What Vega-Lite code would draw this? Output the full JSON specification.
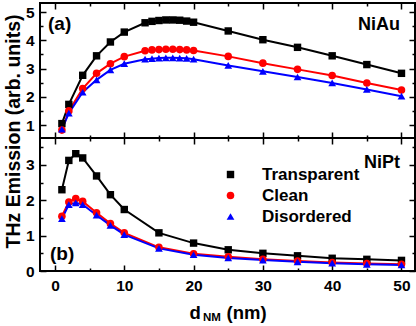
{
  "$schema": "https://vega.github.io/schema/vega-lite/v6.json",
  "autosize": {"type": "pad"},
  "padding": {"left": 2, "top": 1, "right": 3, "bottom": 2},
  "background": "white",
  "config": {
    "font": "Liberation Sans",
    "view": {"stroke": "#000000", "strokeWidth": 2},
    "axis": {
      "labelFont": "Liberation Sans", "titleFont": "Liberation Sans",
      "labelFontWeight": "bold", "labelFontSize": 15.5, "labelColor": "#000000",
      "titleFontWeight": "bold", "titleColor": "#000000",
      "tickColor": "#000000", "tickWidth": 1.5, "grid": false, "domain": false
    },
    "legend": {
      "title": null, "padding": 0,
      "labelFont": "Liberation Sans", "labelFontSize": 17, "labelFontWeight": "bold", "labelColor": "#000000", "labelLimit": 300,
      "symbolSize": 64, "labelOffset": 23, "rowPadding": 3
    },
    "text": {"font": "Liberation Sans", "fontWeight": "bold", "color": "#000000"}
  },
  "datasets": {
    "niau": [
      {"s": "Transparent", "d": 1, "v": 1.05}, {"s": "Transparent", "d": 2, "v": 1.73}, {"s": "Transparent", "d": 4, "v": 2.76}, {"s": "Transparent", "d": 6, "v": 3.45}, {"s": "Transparent", "d": 8, "v": 3.94}, {"s": "Transparent", "d": 10, "v": 4.29}, {"s": "Transparent", "d": 13, "v": 4.62}, {"s": "Transparent", "d": 14, "v": 4.67}, {"s": "Transparent", "d": 15, "v": 4.7}, {"s": "Transparent", "d": 16, "v": 4.72}, {"s": "Transparent", "d": 17, "v": 4.72}, {"s": "Transparent", "d": 18, "v": 4.71}, {"s": "Transparent", "d": 19, "v": 4.68}, {"s": "Transparent", "d": 20, "v": 4.64}, {"s": "Transparent", "d": 25, "v": 4.33}, {"s": "Transparent", "d": 30, "v": 4.02}, {"s": "Transparent", "d": 35, "v": 3.75}, {"s": "Transparent", "d": 40, "v": 3.45}, {"s": "Transparent", "d": 45, "v": 3.14}, {"s": "Transparent", "d": 50, "v": 2.83},
      {"s": "Clean", "d": 1, "v": 0.82}, {"s": "Clean", "d": 2, "v": 1.5}, {"s": "Clean", "d": 4, "v": 2.29}, {"s": "Clean", "d": 6, "v": 2.83}, {"s": "Clean", "d": 8, "v": 3.17}, {"s": "Clean", "d": 10, "v": 3.42}, {"s": "Clean", "d": 13, "v": 3.63}, {"s": "Clean", "d": 14, "v": 3.66}, {"s": "Clean", "d": 15, "v": 3.67}, {"s": "Clean", "d": 16, "v": 3.68}, {"s": "Clean", "d": 17, "v": 3.68}, {"s": "Clean", "d": 18, "v": 3.67}, {"s": "Clean", "d": 19, "v": 3.66}, {"s": "Clean", "d": 20, "v": 3.64}, {"s": "Clean", "d": 25, "v": 3.43}, {"s": "Clean", "d": 30, "v": 3.19}, {"s": "Clean", "d": 35, "v": 2.97}, {"s": "Clean", "d": 40, "v": 2.75}, {"s": "Clean", "d": 45, "v": 2.49}, {"s": "Clean", "d": 50, "v": 2.24},
      {"s": "Disordered", "d": 1, "v": 0.85}, {"s": "Disordered", "d": 2, "v": 1.42}, {"s": "Disordered", "d": 4, "v": 2.16}, {"s": "Disordered", "d": 6, "v": 2.6}, {"s": "Disordered", "d": 8, "v": 2.95}, {"s": "Disordered", "d": 10, "v": 3.17}, {"s": "Disordered", "d": 13, "v": 3.33}, {"s": "Disordered", "d": 14, "v": 3.35}, {"s": "Disordered", "d": 15, "v": 3.37}, {"s": "Disordered", "d": 16, "v": 3.38}, {"s": "Disordered", "d": 17, "v": 3.38}, {"s": "Disordered", "d": 18, "v": 3.37}, {"s": "Disordered", "d": 19, "v": 3.36}, {"s": "Disordered", "d": 20, "v": 3.33}, {"s": "Disordered", "d": 25, "v": 3.11}, {"s": "Disordered", "d": 30, "v": 2.9}, {"s": "Disordered", "d": 35, "v": 2.7}, {"s": "Disordered", "d": 40, "v": 2.49}, {"s": "Disordered", "d": 45, "v": 2.26}, {"s": "Disordered", "d": 50, "v": 2.02}
    ],
    "nipt": [
      {"s": "Transparent", "d": 1, "v": 2.3}, {"s": "Transparent", "d": 2, "v": 3.13}, {"s": "Transparent", "d": 3, "v": 3.32}, {"s": "Transparent", "d": 4, "v": 3.2}, {"s": "Transparent", "d": 6, "v": 2.69}, {"s": "Transparent", "d": 8, "v": 2.16}, {"s": "Transparent", "d": 10, "v": 1.74}, {"s": "Transparent", "d": 15, "v": 1.08}, {"s": "Transparent", "d": 20, "v": 0.79}, {"s": "Transparent", "d": 25, "v": 0.6}, {"s": "Transparent", "d": 30, "v": 0.5}, {"s": "Transparent", "d": 35, "v": 0.43}, {"s": "Transparent", "d": 40, "v": 0.36}, {"s": "Transparent", "d": 45, "v": 0.33}, {"s": "Transparent", "d": 50, "v": 0.3},
      {"s": "Clean", "d": 1, "v": 1.55}, {"s": "Clean", "d": 2, "v": 1.95}, {"s": "Clean", "d": 3, "v": 2.05}, {"s": "Clean", "d": 4, "v": 1.97}, {"s": "Clean", "d": 6, "v": 1.65}, {"s": "Clean", "d": 8, "v": 1.34}, {"s": "Clean", "d": 10, "v": 1.08}, {"s": "Clean", "d": 15, "v": 0.67}, {"s": "Clean", "d": 20, "v": 0.49}, {"s": "Clean", "d": 25, "v": 0.4}, {"s": "Clean", "d": 30, "v": 0.33}, {"s": "Clean", "d": 35, "v": 0.28}, {"s": "Clean", "d": 40, "v": 0.24}, {"s": "Clean", "d": 45, "v": 0.21}, {"s": "Clean", "d": 50, "v": 0.19},
      {"s": "Disordered", "d": 1, "v": 1.48}, {"s": "Disordered", "d": 2, "v": 1.88}, {"s": "Disordered", "d": 3, "v": 1.93}, {"s": "Disordered", "d": 4, "v": 1.88}, {"s": "Disordered", "d": 6, "v": 1.58}, {"s": "Disordered", "d": 8, "v": 1.29}, {"s": "Disordered", "d": 10, "v": 1.03}, {"s": "Disordered", "d": 15, "v": 0.64}, {"s": "Disordered", "d": 20, "v": 0.46}, {"s": "Disordered", "d": 25, "v": 0.37}, {"s": "Disordered", "d": 30, "v": 0.31}, {"s": "Disordered", "d": 35, "v": 0.26}, {"s": "Disordered", "d": 40, "v": 0.22}, {"s": "Disordered", "d": 45, "v": 0.19}, {"s": "Disordered", "d": 50, "v": 0.17}
    ]
  },
  "spacing": 0,
  "bounds": "flush",
  "resolve": {"legend": {"color": "independent", "shape": "independent", "size": "independent"}},
  "vconcat": [
    {
      "width": 375,
      "height": 135,
      "data": {"name": "niau"},
      "resolve": {"axis": {"x": "independent", "y": "independent"}},
      "layer": [
        {
          "mark": {"type": "line", "strokeWidth": 2},
          "encoding": {
            "x": {"field": "d", "type": "quantitative", "scale": {"domain": [-2.16, 51.95], "nice": false, "zero": false}, "axis": {"orient": "bottom", "values": [0, 10, 20, 30, 40, 50], "labels": false, "tickSize": -6, "title": null}},
            "y": {"field": "v", "type": "quantitative", "scale": {"domain": [0.54, 5.32], "nice": false, "zero": false}, "axis": {"orient": "left", "values": [1, 2, 3, 4, 5], "tickSize": -6, "labelPadding": 12, "title": null}},
            "color": {"field": "s", "type": "nominal", "scale": {"domain": ["Transparent", "Clean", "Disordered"], "range": ["#000000", "#ff0000", "#0000ff"]}, "legend": null}
          }
        },
        {
          "mark": {"type": "point", "filled": true, "opacity": 1},
          "encoding": {
            "x": {"field": "d", "type": "quantitative", "axis": {"orient": "top", "values": [0, 10, 20, 30, 40, 50], "labels": false, "tickSize": -6, "title": null}},
            "y": {"field": "v", "type": "quantitative", "axis": {"orient": "right", "values": [1, 2, 3, 4, 5], "labels": false, "tickSize": -6, "title": null}},
            "color": {"field": "s", "type": "nominal", "legend": null},
            "shape": {"field": "s", "type": "nominal", "scale": {"domain": ["Transparent", "Clean", "Disordered"], "range": ["square", "circle", "triangle-up"]}, "legend": null},
            "size": {"field": "s", "type": "nominal", "scale": {"domain": ["Transparent", "Clean", "Disordered"], "range": [55, 60, 85]}, "legend": null}
          }
        },
        {
          "mark": {"type": "point", "opacity": 0},
          "encoding": {
            "x": {"field": "d", "type": "quantitative", "axis": {"orient": "bottom", "values": [5, 15, 25, 35, 45], "labels": false, "tickSize": -3, "title": null}},
            "y": {"field": "v", "type": "quantitative", "axis": {"orient": "left", "values": [1.5, 2.5, 3.5, 4.5], "labels": false, "tickSize": -3, "title": null}}
          }
        },
        {
          "mark": {"type": "point", "opacity": 0},
          "encoding": {
            "x": {"field": "d", "type": "quantitative", "axis": {"orient": "top", "values": [5, 15, 25, 35, 45], "labels": false, "tickSize": -3, "title": null}},
            "y": {"field": "v", "type": "quantitative", "axis": {"orient": "right", "values": [1.5, 2.5, 3.5, 4.5], "labels": false, "tickSize": -3, "title": null}}
          }
        },
        {
          "data": {"values": [{}]},
          "mark": {"type": "text", "fontSize": 19, "align": "left", "baseline": "middle"},
          "encoding": {
            "x": {"datum": -1.0, "type": "quantitative", "axis": null},
            "y": {"datum": 4.58, "type": "quantitative", "axis": null},
            "text": {"value": "(a)"}
          }
        },
        {
          "data": {"values": [{}]},
          "mark": {"type": "text", "fontSize": 18, "align": "right", "baseline": "middle"},
          "encoding": {
            "x": {"datum": 49.8, "type": "quantitative", "axis": null},
            "y": {"datum": 4.53, "type": "quantitative", "axis": null},
            "text": {"value": "NiAu"}
          }
        }
      ]
    },
    {
      "width": 375,
      "height": 133,
      "data": {"name": "nipt"},
      "resolve": {"axis": {"x": "independent", "y": "independent"}},
      "layer": [
        {
          "mark": {"type": "line", "strokeWidth": 2},
          "encoding": {
            "x": {"field": "d", "type": "quantitative", "scale": {"domain": [-2.16, 51.95], "nice": false, "zero": false}, "axis": {"orient": "bottom", "values": [0, 10, 20, 30, 40, 50], "tickSize": -6, "labelPadding": 13, "title": "d\u00a0\u00a0\u00a0\u00a0\u00a0(nm)", "titleFontSize": 18.5, "titleBaseline": "alphabetic", "titleY": 47}},
            "y": {"field": "v", "type": "quantitative", "scale": {"domain": [0, 3.764], "nice": false, "zero": false}, "axis": {"orient": "left", "values": [0, 1, 2, 3], "tickSize": -6, "labelPadding": 12, "title": "THz Emission (arb. units)", "titleFontSize": 19.5, "titleAngle": -90, "titleBaseline": "bottom", "titleAlign": "center", "titleX": -16.5, "titleY": -7}},
            "color": {"field": "s", "type": "nominal", "scale": {"domain": ["Transparent", "Clean", "Disordered"], "range": ["#000000", "#ff0000", "#0000ff"]},
              "legend": {"orient": "none", "legendX": 182, "legendY": 28,
                "encode": {"symbols": {"update": {
                  "shape": {"signal": "datum.value === 'Transparent' ? 'M-5.6,-0.25H5.6V0.25H-5.6ZM-0.95,-0.95H0.95V0.95H-0.95Z' : datum.value === 'Clean' ? 'M-5.6,-0.25H5.6V0.25H-5.6ZM-1.15,0A1.15,1.15,0,1,0,1.15,0A1.15,1.15,0,1,0,-1.15,0Z' : 'M-5.6,-0.25H5.6V0.25H-5.6ZM0,-1.4L1.45,1.1L-1.45,1.1Z'"},
                  "fill": {"signal": "scale('color', datum.value)"},
                  "stroke": {"value": "transparent"},
                  "strokeWidth": {"value": 0},
                  "opacity": {"value": 1}
                }}}}}
          }
        },
        {
          "mark": {"type": "point", "filled": true, "opacity": 1},
          "encoding": {
            "x": {"field": "d", "type": "quantitative", "axis": {"orient": "top", "values": [0, 10, 20, 30, 40, 50], "labels": false, "tickSize": -6, "title": null}},
            "y": {"field": "v", "type": "quantitative", "axis": {"orient": "right", "values": [0, 1, 2, 3], "labels": false, "tickSize": -6, "title": null}},
            "color": {"field": "s", "type": "nominal"},
            "shape": {"field": "s", "type": "nominal", "scale": {"domain": ["Transparent", "Clean", "Disordered"], "range": ["square", "circle", "triangle-up"]}, "legend": null},
            "size": {"field": "s", "type": "nominal", "scale": {"domain": ["Transparent", "Clean", "Disordered"], "range": [55, 60, 85]}, "legend": null}
          }
        },
        {
          "mark": {"type": "point", "opacity": 0},
          "encoding": {
            "x": {"field": "d", "type": "quantitative", "axis": {"orient": "bottom", "values": [5, 15, 25, 35, 45], "labels": false, "tickSize": -3, "title": null}},
            "y": {"field": "v", "type": "quantitative", "axis": {"orient": "left", "values": [0.5, 1.5, 2.5, 3.5], "labels": false, "tickSize": -3, "title": null}}
          }
        },
        {
          "mark": {"type": "point", "opacity": 0},
          "encoding": {
            "x": {"field": "d", "type": "quantitative", "axis": {"orient": "top", "values": [5, 15, 25, 35, 45], "labels": false, "tickSize": -3, "title": null}},
            "y": {"field": "v", "type": "quantitative", "axis": {"orient": "right", "values": [0.5, 1.5, 2.5, 3.5], "labels": false, "tickSize": -3, "title": null}}
          }
        },
        {
          "data": {"values": [{}]},
          "mark": {"type": "text", "fontSize": 19, "align": "left", "baseline": "middle"},
          "encoding": {
            "x": {"datum": -0.72, "type": "quantitative", "axis": null},
            "y": {"datum": 0.48, "type": "quantitative", "axis": null},
            "text": {"value": "(b)"}
          }
        },
        {
          "data": {"values": [{}]},
          "mark": {"type": "text", "fontSize": 18, "align": "right", "baseline": "middle"},
          "encoding": {
            "x": {"datum": 49.8, "type": "quantitative", "axis": null},
            "y": {"datum": 3.06, "type": "quantitative", "axis": null},
            "text": {"value": "NiPt"}
          }
        },
        {
          "data": {"values": [{}]},
          "mark": {"type": "text", "fontSize": 11.5, "align": "center", "baseline": "alphabetic"},
          "encoding": {
            "x": {"datum": 22.65, "type": "quantitative", "axis": null},
            "y": {"datum": -1.415, "type": "quantitative", "axis": null},
            "text": {"value": "NM"}
          }
        }
      ]
    }
  ]
}
